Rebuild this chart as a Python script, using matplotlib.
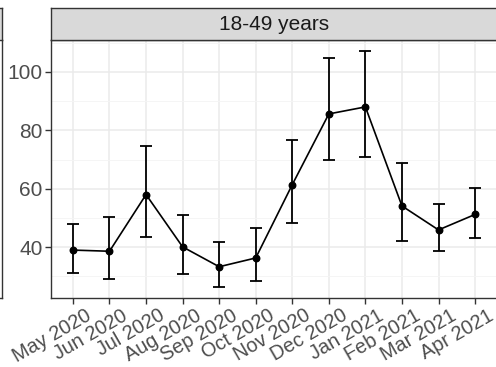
import numpy as np
import matplotlib.pyplot as plt
from matplotlib.transforms import ScaledTranslation

plt.rcParams['font.family'] = ['Liberation Sans', 'DejaVu Sans']

# Monthly estimates with 95% interval, 18-49 years
months = ['May 2020', 'Jun 2020', 'Jul 2020', 'Aug 2020', 'Sep 2020', 'Oct 2020',
          'Nov 2020', 'Dec 2020', 'Jan 2021', 'Feb 2021', 'Mar 2021', 'Apr 2021']
estimate = [39.0, 38.6, 58.0, 40.1, 33.3, 36.3, 61.4, 85.6, 88.0, 54.1, 45.9, 51.2]
lower = [31.3, 29.1, 43.4, 30.7, 26.2, 28.3, 48.3, 70.0, 70.8, 42.1, 38.7, 43.2]
upper = [47.8, 50.2, 74.6, 50.9, 41.6, 46.6, 76.8, 104.8, 107.0, 68.7, 54.7, 60.3]
panel_title = '18-49 years'

W, H = 496, 367
fig = plt.figure(figsize=(W / 100, H / 100), dpi=100)
fig.patch.set_facecolor('white')

border = '#333333'
grid_major = '#EBEBEB'
grid_minor = '#F4F4F4'

# neighbouring facet, only its right edge is visible
left_ax = fig.add_axes([-200 / W, (H - 298) / H, 202 / W, 258 / H])
left_ax.set_xticks([])
left_ax.set_yticks([])
for s in ['top', 'left']:
    left_ax.spines[s].set_visible(False)
for s in ['right', 'bottom']:
    left_ax.spines[s].set_color(border)
    left_ax.spines[s].set_linewidth(1.0)
left_strip = fig.add_axes([-200 / W, (H - 40) / H, 202 / W, 32 / H])
left_strip.set_facecolor('#D9D9D9')
left_strip.set_xticks([])
left_strip.set_yticks([])
for s in left_strip.spines.values():
    s.set_color(border)
    s.set_linewidth(1.0)

# main panel
ax = fig.add_axes([51 / W, (H - 298) / H, 446 / W, 258 / H])
x = np.arange(len(months))
est = np.array(estimate)
yerr = [est - np.array(lower), np.array(upper) - est]

ax.errorbar(x, est, yerr=yerr, fmt='none', ecolor='black', elinewidth=1.3,
            capsize=4.5, capthick=1.3, zorder=3)
ax.plot(x, est, color='black', lw=1.2, zorder=4)
ax.scatter(x, est, s=22, color='black', zorder=5)

ax.set_xlim(-0.6, len(months) - 0.4)
ax.set_ylim(22.6, 110.9)
ax.set_xticks(x)
ax.set_xticklabels([])
# angled month labels, placed like ggplot's angle = 30, hjust = 1
lab_trans = ax.get_xaxis_transform() + ScaledTranslation(12 / 100, -8 / 100, fig.dpi_scale_trans)
for xi, m in zip(x, months):
    ax.text(xi, 0, m, transform=lab_trans, rotation=30, ha='right', va='top',
            rotation_mode='anchor', fontsize=14.3, color='#4D4D4D', clip_on=False)
ax.set_yticks([40, 60, 80, 100])
ax.set_yticks([30, 50, 70, 90, 110], minor=True)
ax.tick_params(axis='y', which='major', labelsize=15, labelcolor='#4D4D4D',
               length=4, width=1, color=border, pad=2)
ax.tick_params(axis='y', which='minor', length=0)
ax.tick_params(axis='x', length=4, width=1, color=border, pad=3)
ax.grid(True, which='major', color=grid_major, lw=1.1, zorder=0)
ax.grid(True, which='minor', axis='y', color=grid_minor, lw=0.6, zorder=0)
ax.set_axisbelow(True)
for s in ['left', 'bottom', 'top']:
    ax.spines[s].set_color(border)
    ax.spines[s].set_linewidth(1.0)
ax.spines['right'].set_visible(False)

# facet strip
strip = fig.add_axes([51 / W, (H - 40) / H, 446 / W, 32 / H])
strip.set_facecolor('#D9D9D9')
strip.set_xticks([])
strip.set_yticks([])
for s in strip.spines.values():
    s.set_color(border)
    s.set_linewidth(1.0)
strip.spines['right'].set_visible(False)
strip.text(0.5, 0.5, panel_title, transform=strip.transAxes, ha='center',
           va='center', fontsize=15, color='#1A1A1A')

fig.savefig('out.png', dpi=100)
